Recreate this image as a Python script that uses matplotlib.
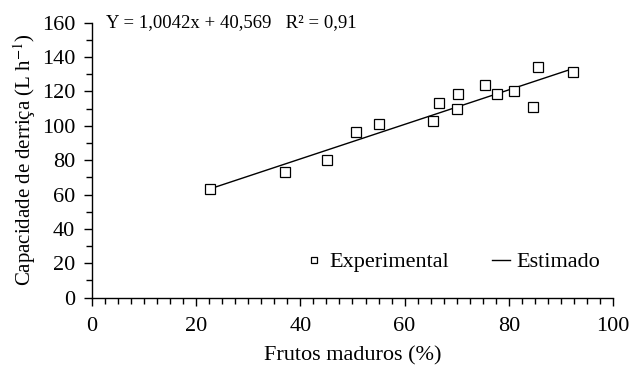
import matplotlib.pyplot as plt
from matplotlib.ticker import MultipleLocator
import numpy as np

plt.rcParams["font.family"] = ["Liberation Serif", "DejaVu Serif"]
plt.rcParams["mathtext.fontset"] = "stix"

# data
frutos = [22.6, 37.0, 45.1, 50.7, 55.1, 65.5, 66.7, 70.3, 70.1, 75.5, 77.7, 81.0, 84.6, 85.7, 92.4]
capacidade = [63.1, 73.1, 80.3, 96.6, 100.9, 103.0, 113.5, 118.3, 110.0, 123.5, 118.3, 120.4, 110.8, 134.4, 131.3]

coef_a = 1.0042
coef_b = 40.569

x_fit = np.array([min(frutos), max(frutos)])
y_fit = coef_a * x_fit + coef_b

fig = plt.figure(figsize=(6.3, 3.78), dpi=100)
ax = fig.add_axes([0.146, 0.2125, 0.827, 0.7275])

ax.plot(frutos, capacidade, linestyle="none", marker="s", markersize=7,
        markerfacecolor="white", markeredgecolor="black", markeredgewidth=0.9,
        label="Experimental", zorder=3)
ax.plot(x_fit, y_fit, color="black", linewidth=1.0, label="Estimado", zorder=2)

ax.set_xlim(0, 100)
ax.set_ylim(0, 160)
ax.xaxis.set_major_locator(MultipleLocator(20))
ax.xaxis.set_minor_locator(MultipleLocator(2.5))
ax.yaxis.set_major_locator(MultipleLocator(20))
ax.yaxis.set_minor_locator(MultipleLocator(10))

for s in ["top", "right"]:
    ax.spines[s].set_visible(False)
ax.spines["left"].set_linewidth(1.0)
ax.spines["bottom"].set_linewidth(1.0)

ax.tick_params(which="major", direction="out", length=6, width=1.0, labelsize=16)
ax.tick_params(which="minor", direction="out", length=4, width=1.0)
ax.tick_params(axis="x", pad=8)
ax.tick_params(axis="y", pad=6)

ax.set_xlabel("Frutos maduros (%)", fontsize=16, labelpad=7)
ax.set_ylabel("Capacidade de derriça (L h$^{-1}$)", fontsize=15, labelpad=3)

ax.text(0.027, 1.0, "Y = 1,0042x + 40,569   R² = 0,91", transform=ax.transAxes,
        fontsize=13.5, va="center", ha="left")

ax.legend(loc="lower right", bbox_to_anchor=(1.005, 0.035), ncol=2, frameon=False,
          fontsize=16, handlelength=0.8, handletextpad=0.3, columnspacing=1.9,
          borderpad=0.2, markerscale=0.7)

fig.savefig("out.png", dpi=100)
